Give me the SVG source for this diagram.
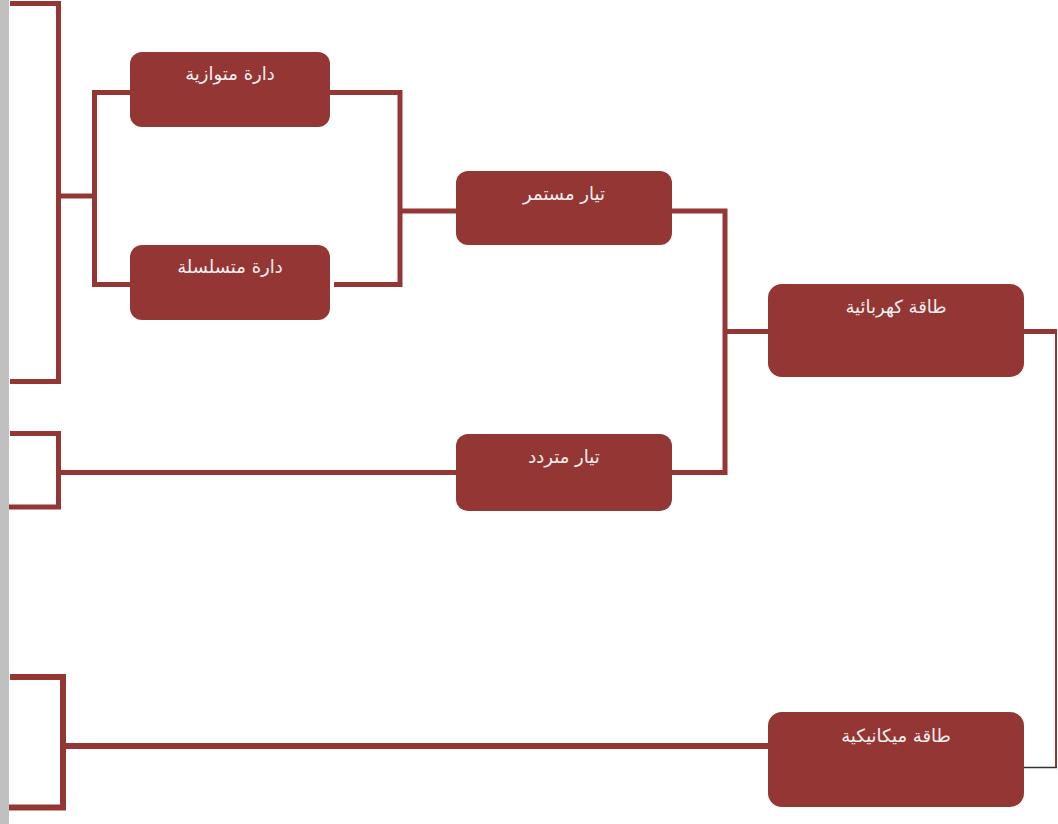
<svg xmlns="http://www.w3.org/2000/svg" width="1058" height="824" viewBox="0 0 1058 824">
<style>
.box{fill:#943634;stroke:none}
.lbl{fill:#f4f0f0;font-family:"DejaVu Sans","Liberation Sans","Noto Sans",sans-serif;font-size:18px;text-anchor:middle}
.c{fill:none;stroke:#943634;stroke-width:5;stroke-linecap:butt;stroke-linejoin:miter}
</style>
<rect x="0" y="0" width="1058" height="824" fill="#ffffff"/>
<rect x="0" y="0" width="9" height="824" fill="#c0c0c0"/>
<g id="connectors">
<polyline class="c" points="10,3.5 58.5,3.5 58.5,381.5 10,381.5"/>
<line class="c" x1="58.5" y1="196" x2="94.5" y2="196"/>
<polyline class="c" points="130,92.5 94.5,92.5 94.5,284.5 130,284.5"/>
<polyline class="c" points="330,92.5 400,92.5 400,284.5 334,284.5"/>
<line class="c" x1="400" y1="211" x2="456" y2="211"/>
<polyline class="c" points="672,211 725,211 725,472.5 672,472.5"/>
<line class="c" x1="725" y1="331.5" x2="768" y2="331.5"/>
<polyline class="c" points="10,433.5 58.5,433.5 58.5,507 9,507"/>
<line class="c" x1="58.5" y1="472.5" x2="456" y2="472.5"/>
<polyline class="c" style="stroke-width:6" points="10,677 63,677 63,807.5 9,807.5"/>
<line class="c" style="stroke-width:6" x1="63" y1="746" x2="768" y2="746"/>
<line class="c" x1="1024" y1="331.5" x2="1057" y2="331.5"/>
<line class="c" style="stroke-width:2" x1="1056" y1="331" x2="1056" y2="768"/>
<line x1="1024" y1="767.5" x2="1057" y2="767.5" stroke="#333333" stroke-width="1.5"/>
</g>
<g id="node-parallel">
<rect class="box" x="130" y="52" width="200" height="75" rx="12"/>
<text class="lbl" x="230" y="80" direction="rtl">دارة متوازية</text>
</g>
<g id="node-series">
<rect class="box" x="130" y="245" width="200" height="75" rx="12"/>
<text class="lbl" x="230" y="273" direction="rtl">دارة متسلسلة</text>
</g>
<g id="node-dc">
<rect class="box" x="456" y="171" width="216" height="74" rx="12"/>
<text class="lbl" x="564" y="200" direction="rtl">تيار مستمر</text>
</g>
<g id="node-ac">
<rect class="box" x="456" y="434" width="216" height="77" rx="12"/>
<text class="lbl" x="564" y="463" direction="rtl">تيار متردد</text>
</g>
<g id="node-electric">
<rect class="box" x="768" y="284" width="256" height="93" rx="14"/>
<text class="lbl" x="896" y="313" direction="rtl">طاقة كهربائية</text>
</g>
<g id="node-mechanical">
<rect class="box" x="768" y="712" width="256" height="95" rx="14"/>
<text class="lbl" x="896" y="742" direction="rtl">طاقة ميكانيكية</text>
</g>
</svg>
